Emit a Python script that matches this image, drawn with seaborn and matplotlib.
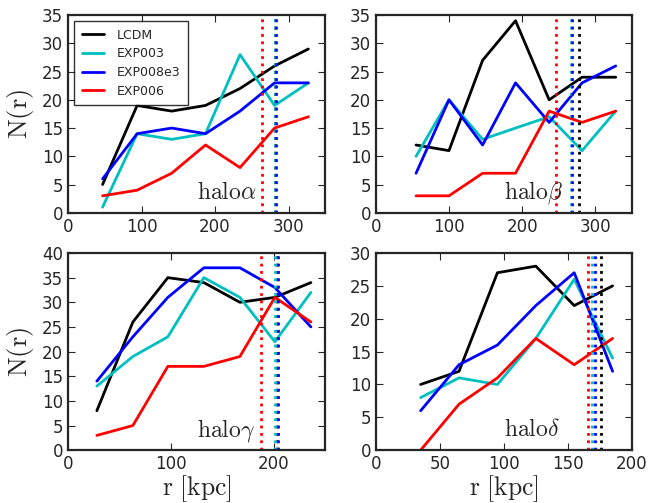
import matplotlib
matplotlib.use('Agg')
import matplotlib.pyplot as plt
import numpy as np
import pandas as pd
import seaborn as sns

# models and colours
models = ['LCDM', 'EXP003', 'EXP008e3', 'EXP006']
colors = ['k', 'c', 'b', 'r']

# halo alpha
r_alpha = [47, 94, 141, 187, 234, 281, 327]
n_alpha = {
    'LCDM': [5, 19, 18, 19, 22, 26, 29],
    'EXP003': [1, 14, 13, 14, 28, 19, 23],
    'EXP008e3': [6, 14, 15, 14, 18, 23, 23],
    'EXP006': [3, 4, 7, 12, 8, 15, 17],
}
rvir_alpha = [282, 282, 283, 264.5]

# halo beta
r_beta = [55, 100, 146, 191, 237, 282, 328]
n_beta = {
    'LCDM': [12, 11, 27, 34, 20, 24, 24],
    'EXP003': [10, 20, 13, 15, 17, 11, 18],
    'EXP008e3': [7, 20, 12, 23, 16, 23, 26],
    'EXP006': [3, 3, 7, 7, 18, 16, 18],
}
rvir_beta = [277.7, 267, 268, 246]

# halo gamma
r_gamma = [28, 63, 97, 132, 167, 201, 236]
n_gamma = {
    'LCDM': [8, 26, 35, 34, 30, 31, 34],
    'EXP003': [13, 19, 23, 35, 31, 22, 32],
    'EXP008e3': [14, 23, 31, 37, 37, 33, 25],
    'EXP006': [3, 5, 17, 17, 19, 31, 26],
}
rvir_gamma = [203, 201.5, 204, 188]

# halo delta
r_delta = [35, 65, 95, 125, 155, 185]
n_delta = {
    'LCDM': [10, 12, 27, 28, 22, 25],
    'EXP003': [8, 11, 10, 17, 26, 14],
    'EXP008e3': [6, 13, 16, 22, 27, 12],
    'EXP006': [0, 7, 11, 17, 13, 17],
}
rvir_delta = [176.3, 169, 171.5, 165.5]

sns.set_style('ticks')
plt.rcParams['font.family'] = ['DejaVu Sans']
plt.rcParams['mathtext.fontset'] = 'cm'
plt.rcParams['xtick.direction'] = 'in'
plt.rcParams['ytick.direction'] = 'in'
plt.rcParams['xtick.top'] = True
plt.rcParams['ytick.right'] = True
plt.rcParams['xtick.major.size'] = 5
plt.rcParams['ytick.major.size'] = 5
plt.rcParams['axes.linewidth'] = 1.6
plt.rcParams['xtick.labelsize'] = 12
plt.rcParams['ytick.labelsize'] = 12

fig = plt.figure(figsize=(6.48, 5.03), dpi=100)
boxes = [
    [0.105, 0.577, 0.397, 0.393],
    [0.580, 0.577, 0.395, 0.393],
    [0.105, 0.105, 0.397, 0.392],
    [0.580, 0.105, 0.395, 0.392],
]
panels = [
    (r_alpha, n_alpha, rvir_alpha, r'${\rm halo}\alpha$', 350, 35, np.arange(0, 301, 100)),
    (r_beta, n_beta, rvir_beta, r'${\rm halo}\beta$', 350, 35, np.arange(0, 301, 100)),
    (r_gamma, n_gamma, rvir_gamma, r'${\rm halo}\gamma$', 250, 40, np.arange(0, 201, 100)),
    (r_delta, n_delta, rvir_delta, r'${\rm halo}\delta$', 200, 30, np.arange(0, 201, 50)),
]

for i, (box, (r, n, rvir, name, xmax, ymax, xt)) in enumerate(zip(boxes, panels)):
    ax = fig.add_axes(box)
    for m, c in zip(models, colors):
        df = pd.DataFrame({'r': r, 'N': n[m]})
        sns.lineplot(data=df, x='r', y='N', color=c, lw=2, label=m, ax=ax)
    for rv, c in zip(rvir, colors):
        ax.axvline(rv, color=c, ls=':', lw=2)
    ax.set_xlim(0, xmax)
    ax.set_ylim(0, ymax)
    ax.set_xticks(xt)
    ax.set_yticks(np.arange(0, ymax + 1, 5))
    ax.text(0.5, 0.07, name, transform=ax.transAxes, fontsize=17,
            ha='left', va='baseline')
    ax.set_xlabel(r'$\rm r\ [kpc]$' if i >= 2 else '', fontsize=18.5, labelpad=0)
    ax.set_ylabel(r'$\rm N(r)$' if i % 2 == 0 else '', fontsize=19)
    if i == 0:
        leg = ax.legend(loc='upper left', fontsize=9, fancybox=False,
                        handlelength=1.8, borderpad=0.6, labelspacing=0.45,
                        handletextpad=1.0)
        leg.get_frame().set_edgecolor('k')
    else:
        ax.get_legend().remove()

fig.savefig('out.png', dpi=100)
